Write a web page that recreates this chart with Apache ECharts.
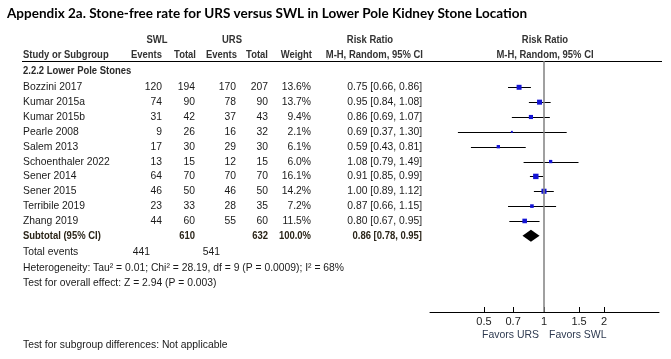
<!DOCTYPE html>
<html>
<head>
<meta charset="utf-8">
<script src="https://cdn.jsdelivr.net/npm/echarts@6/dist/echarts.min.js"></script>
<style>html,body{margin:0;padding:0;background:#fff}#c{width:671px;height:359px}</style>
</head>
<body>
<div id="c"></div>
<script>
// ---------- data ----------
const studies = ['Bozzini 2017','Kumar 2015a','Kumar 2015b','Pearle 2008','Salem 2013','Schoenthaler 2022','Sener 2014','Sener 2015','Terribile 2019','Zhang 2019'];
const swlEvents = [120,74,31,9,17,13,64,46,23,44];
const swlTotal  = [194,90,42,26,30,15,70,50,33,60];
const ursEvents = [170,78,37,16,29,12,70,46,28,55];
const ursTotal  = [207,90,43,32,30,15,70,50,35,60];
const weights   = [13.6,13.7,9.4,2.1,6.1,6.0,16.1,14.2,7.2,11.5];
const riskRatio = [0.75,0.95,0.86,0.69,0.59,1.08,0.91,1.00,0.87,0.80];
const ciLow     = [0.66,0.84,0.69,0.37,0.43,0.79,0.85,0.89,0.66,0.67];
const ciHigh    = [0.86,1.08,1.07,1.30,0.81,1.49,0.99,1.12,1.15,0.95];
const subtotalLabel = 'Subtotal (95% CI)';
const subtotalTotals = [610, 632];
const subtotalWeight = '100.0%';
const subtotalRR = [0.86, 0.78, 0.95];
const totalEvents = [441, 541];
const tickLabels = [0.5, 0.7, 1, 1.5, 2];
const subgroupTitle = '2.2.2 Lower Pole Stones';
const heterogeneity = 'Heterogeneity: Tau² = 0.01; Chi² = 28.19, df = 9 (P = 0.0009); I² = 68%';
const overallTest = 'Test for overall effect: Z = 2.94 (P = 0.003)';
const subgroupTest = 'Test for subgroup differences: Not applicable';
const titleText = 'Appendix 2a. Stone-free rate for URS versus SWL in Lower Pole Kidney Stone Location';

// ---------- layout ----------
const SANS = "'Liberation Sans', Arial, sans-serif";
const TXT = '#1a1a1a';
const NARROW_SCALE = 0.94;
const fmt2 = v => v.toFixed(2);
const ciText = (r,l,h) => fmt2(r) + ' [' + fmt2(l) + ', ' + fmt2(h) + ']';
const n = studies.length;
const SUB = n; // subtotal row index

function txt(x, y, s, opt) {
  opt = opt || {};
  return {
    type: 'text', x: x, y: y, silent: true,
    scaleX: opt.scale != null ? opt.scale : NARROW_SCALE,
    style: {
      text: s, fill: opt.fill || TXT,
      font: (opt.bold ? 'bold ' : '') + (opt.size || 11) + 'px ' + (opt.family || SANS),
      align: opt.align || 'left', verticalAlign: 'middle'
    }
  };
}

const chart = echarts.init(document.getElementById('c'), null, {renderer: 'canvas'});

const tableRows = studies.map((s, i) => [0, i]).concat([[0, SUB]]);
const SUBC = '#2a2418';
const HB = 0.86; // bold header condense

const option = {
  animation: false,
  backgroundColor: '#fff',
  grid: {left: 430, right: 12, top: 61, bottom: 47},
  xAxis: {
    type: 'value',
    min: Math.log(0.268), max: Math.log(3.776),
    splitLine: {show: false},
    axisLine: {show: true, onZero: false, lineStyle: {color: '#000', width: 1}},
    axisTick: {show: true, inside: true, length: 5, customValues: tickLabels.map(Math.log), lineStyle: {color: '#000'}},
    axisLabel: {
      customValues: tickLabels.map(Math.log), margin: 4,
      fontSize: 11, fontFamily: SANS, color: '#222',
      formatter: v => String(+Math.exp(v).toFixed(1))
    }
  },
  yAxis: {type: 'value', inverse: true, min: -1.7710, max: 15.1313, show: false},
  series: [
    { // table text rows
      type: 'custom', clip: false, silent: true,
      data: tableRows,
      encode: {x: 0, y: 1},
      renderItem: function (params, api) {
        const i = params.dataIndex;
        const y = api.coord([0, api.value(1)])[1];
        if (i < n) {
          return {type: 'group', children: [
            txt(23, y, studies[i]),
            txt(162, y, String(swlEvents[i]), {align: 'right'}),
            txt(195, y, String(swlTotal[i]), {align: 'right'}),
            txt(236, y, String(ursEvents[i]), {align: 'right'}),
            txt(268, y, String(ursTotal[i]), {align: 'right'}),
            txt(311, y, weights[i].toFixed(1) + '%', {align: 'right'}),
            txt(422, y, ciText(riskRatio[i], ciLow[i], ciHigh[i]), {align: 'right'})
          ]};
        }
        return {type: 'group', children: [
          txt(23, y, subtotalLabel, {bold: true, fill: SUBC, scale: HB}),
          txt(195, y, String(subtotalTotals[0]), {align: 'right', bold: true, fill: SUBC, scale: HB}),
          txt(268, y, String(subtotalTotals[1]), {align: 'right', bold: true, fill: SUBC, scale: HB}),
          txt(311, y, subtotalWeight, {align: 'right', bold: true, fill: SUBC, scale: HB}),
          txt(422, y, ciText(subtotalRR[0], subtotalRR[1], subtotalRR[2]), {align: 'right', bold: true, fill: SUBC, scale: HB})
        ]};
      }
    },
    { // confidence intervals
      type: 'custom', silent: true,
      data: studies.map((s, i) => [Math.log(ciLow[i]), Math.log(ciHigh[i]), i]),
      encode: {x: [0, 1], y: 2},
      renderItem: function (params, api) {
        const a = api.coord([api.value(0), api.value(2)]);
        const b = api.coord([api.value(1), api.value(2)]);
        const y = Math.round(a[1]) + 0.5;
        return {type: 'line', shape: {x1: a[0], y1: y, x2: b[0], y2: y}, style: {stroke: '#000', lineWidth: 1}};
      }
    },
    { // point estimates
      type: 'scatter', silent: true,
      symbol: 'rect',
      data: studies.map((s, i) => [Math.log(riskRatio[i]), i]),
      symbolSize: (v, p) => Math.sqrt(weights[p.dataIndex]) * 1.35,
      itemStyle: {color: '#1414d4', opacity: 1},
      markLine: {
        silent: true, symbol: 'none', label: {show: false},
        lineStyle: {color: '#808080', width: 1.5, type: 'solid'},
        data: [{xAxis: 0}]
      },
      z: 3
    },
    { // subtotal diamond
      type: 'custom', silent: true,
      data: [[Math.log(subtotalRR[1]), Math.log(subtotalRR[0]), Math.log(subtotalRR[2]), SUB]],
      encode: {x: [0, 1, 2], y: 3},
      renderItem: function (params, api) {
        const l = api.coord([api.value(0), api.value(3)]);
        const m = api.coord([api.value(1), api.value(3)]);
        const r = api.coord([api.value(2), api.value(3)]);
        const h = 6;
        return {type: 'polygon', shape: {points: [[l[0], l[1]], [m[0], m[1] - h], [r[0], r[1]], [m[0], m[1] + h]]}, style: {fill: '#000'}};
      },
      z: 4
    }
  ],
  graphic: [
    txt(7, 13, titleText, {bold: true, size: 14, family: "Lato, 'Open Sans', sans-serif", fill: '#000', scale: 0.965}),
    txt(157, 40, 'SWL', {align: 'center', bold: true, fill: '#333', scale: HB}),
    txt(232, 40, 'URS', {align: 'center', bold: true, fill: '#333', scale: HB}),
    txt(370, 40, 'Risk Ratio', {align: 'center', bold: true, fill: '#333', scale: HB}),
    txt(545, 40, 'Risk Ratio', {align: 'center', bold: true, fill: '#333', scale: HB}),
    txt(23, 55, 'Study or Subgroup', {bold: true, fill: '#333', scale: HB}),
    txt(162, 55, 'Events', {align: 'right', bold: true, fill: '#333', scale: HB}),
    txt(196, 55, 'Total', {align: 'right', bold: true, fill: '#333', scale: HB}),
    txt(237, 55, 'Events', {align: 'right', bold: true, fill: '#333', scale: HB}),
    txt(268, 55, 'Total', {align: 'right', bold: true, fill: '#333', scale: HB}),
    txt(312, 55, 'Weight', {align: 'right', bold: true, fill: '#333', scale: HB}),
    txt(423, 55, 'M-H, Random, 95% CI', {align: 'right', bold: true, fill: '#333', scale: HB}),
    txt(545, 55, 'M-H, Random, 95% CI', {align: 'center', bold: true, fill: '#333', scale: HB}),
    {type: 'line', silent: true, shape: {x1: 22, y1: 61.5, x2: 662, y2: 61.5}, style: {stroke: '#000', lineWidth: 1}},
    txt(23, 71, subgroupTitle, {bold: true, fill: '#2a2a2a', scale: HB}),
    txt(23, 252, 'Total events'),
    txt(150, 252, String(totalEvents[0]), {align: 'right'}),
    txt(220, 252, String(totalEvents[1]), {align: 'right'}),
    txt(23, 267.5, heterogeneity),
    txt(23, 283, overallTest),
    txt(23, 345, subgroupTest),
    txt(539, 335, 'Favors URS', {align: 'right', fill: '#2e3a50', scale: 0.95}),
    txt(549, 335, 'Favors SWL', {align: 'left', fill: '#2e3a50', scale: 0.95})
  ]
};
chart.setOption(option);
</script>
</body>
</html>
